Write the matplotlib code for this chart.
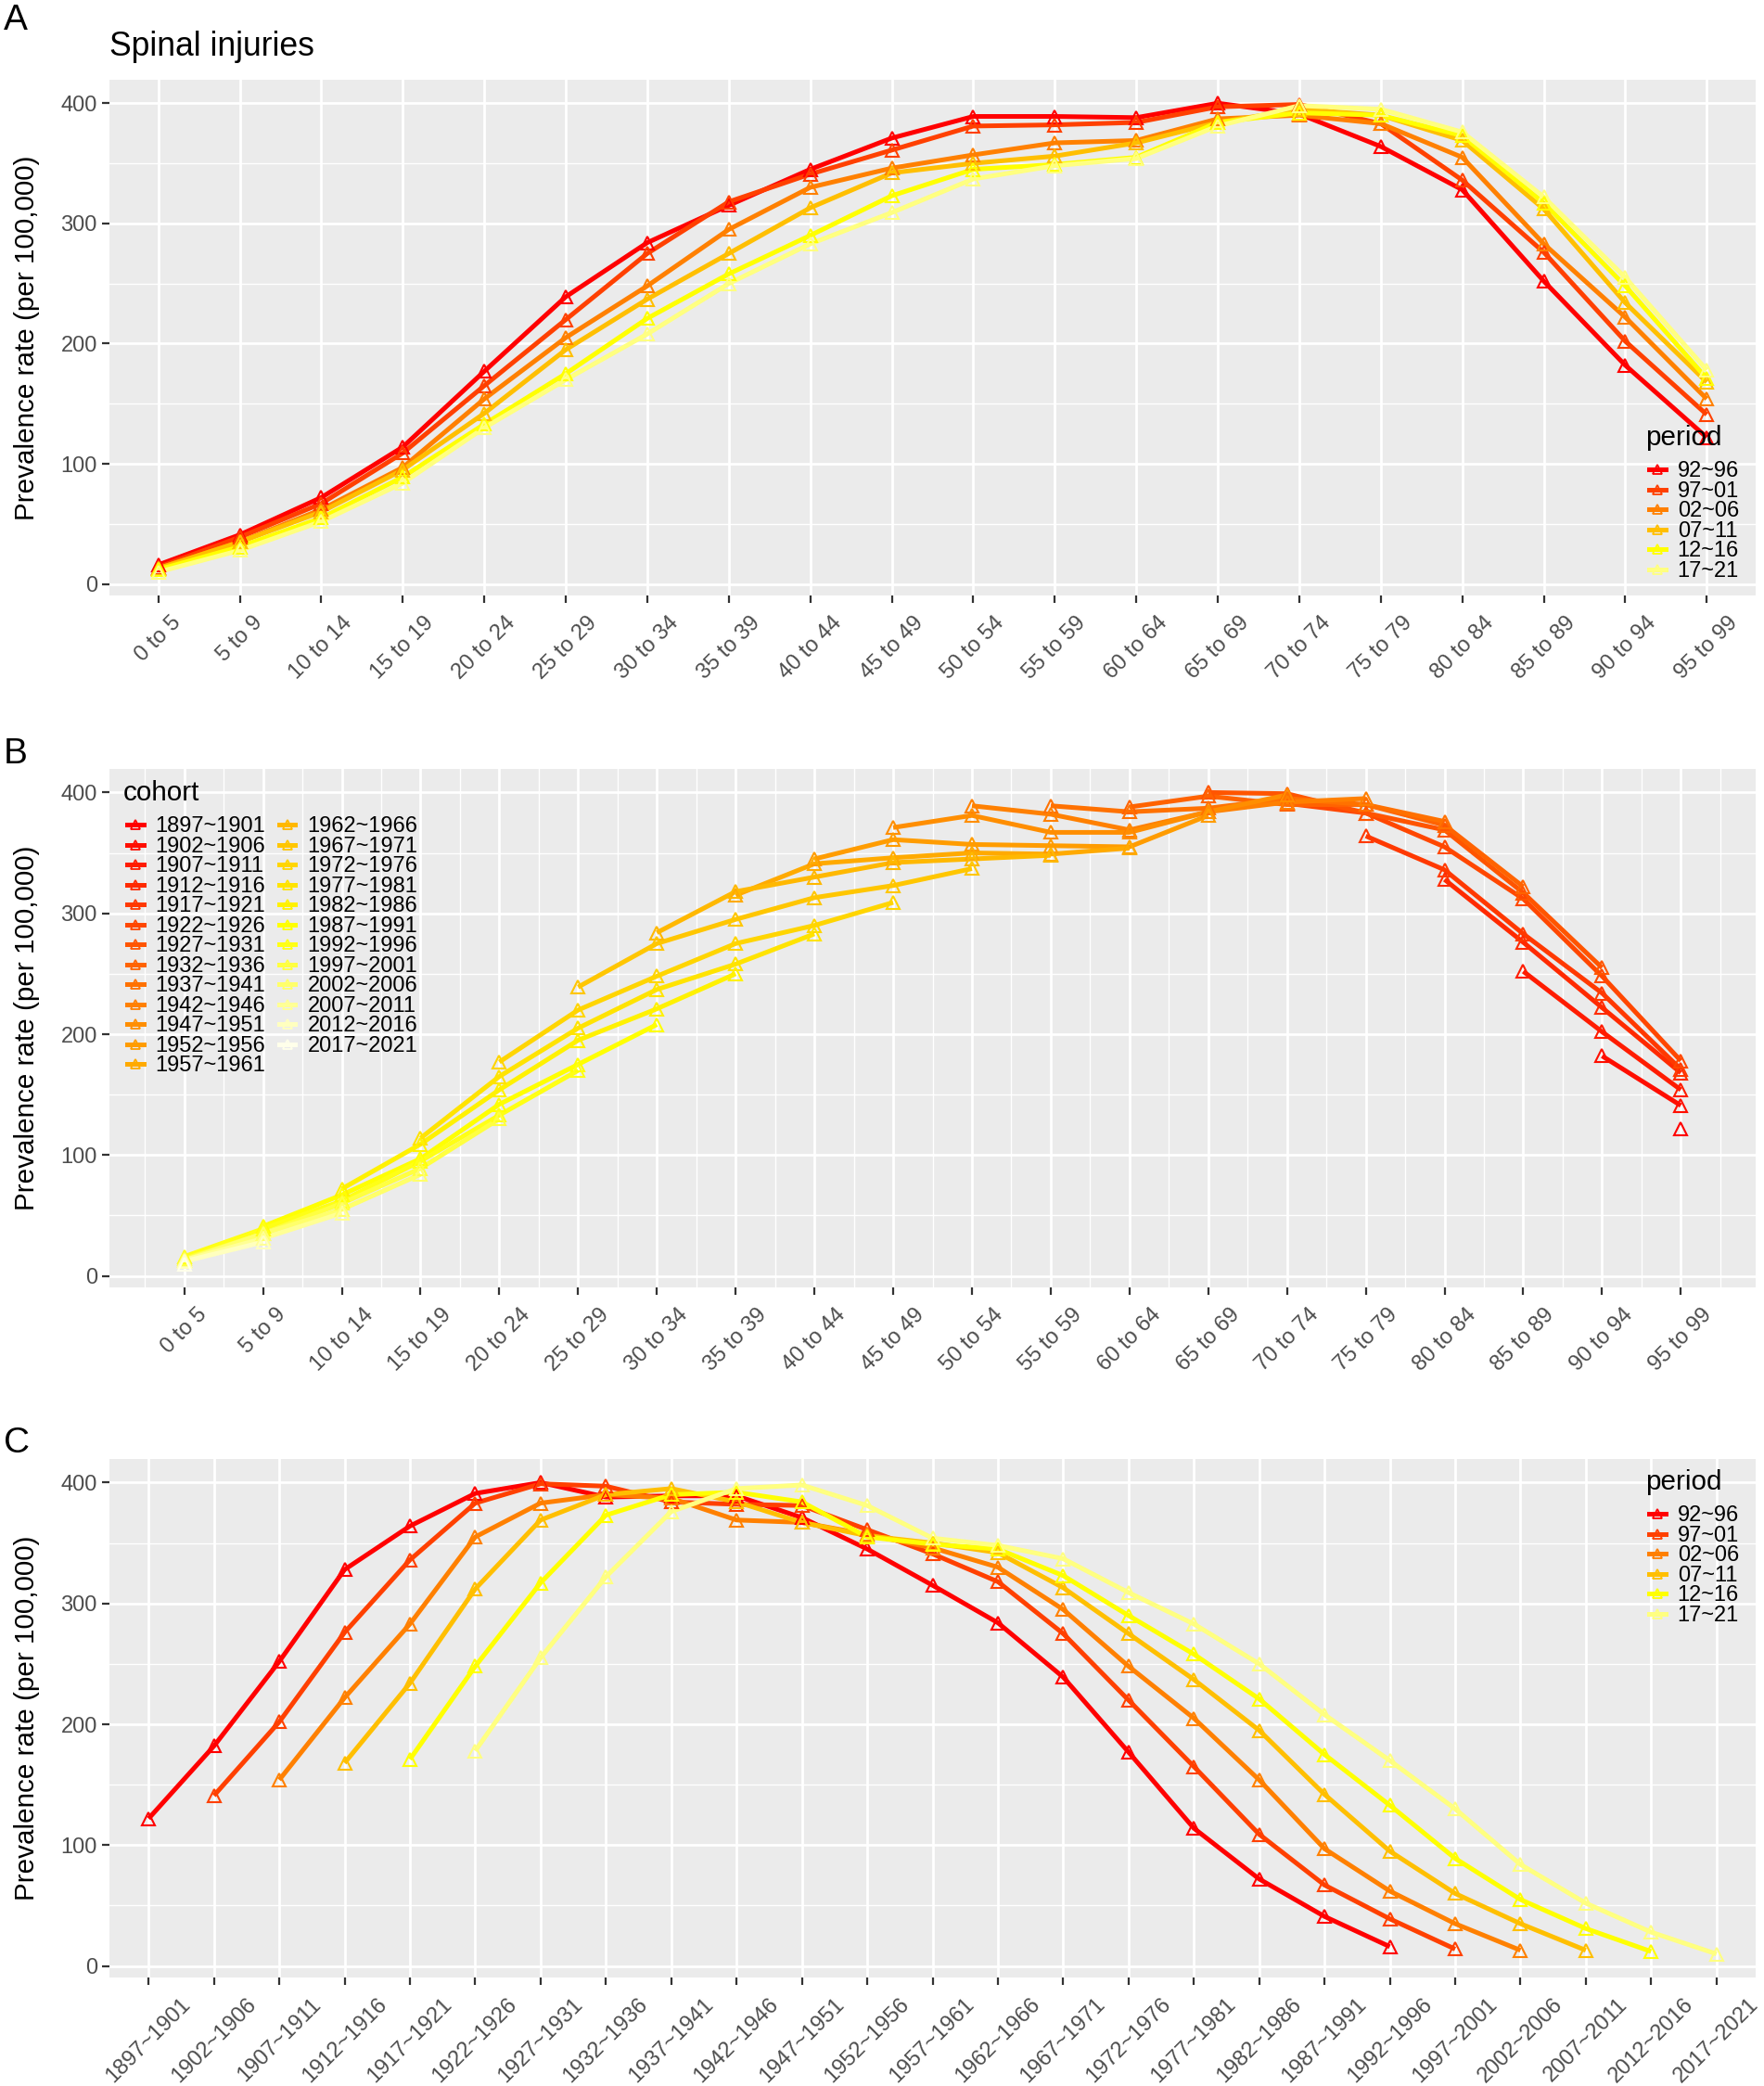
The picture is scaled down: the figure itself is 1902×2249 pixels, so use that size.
import colorsys
import numpy as np
import matplotlib
matplotlib.use("Agg")
import matplotlib.pyplot as plt
from matplotlib.lines import Line2D
from matplotlib.ticker import FixedLocator

plt.rcParams['font.family'] = ['Liberation Sans', 'DejaVu Sans']

# age groups (x axis of panels A and B)
ages = ["0 to 5", "5 to 9", "10 to 14", "15 to 19", "20 to 24", "25 to 29",
        "30 to 34", "35 to 39", "40 to 44", "45 to 49", "50 to 54", "55 to 59",
        "60 to 64", "65 to 69", "70 to 74", "75 to 79", "80 to 84", "85 to 89",
        "90 to 94", "95 to 99"]
periods = ["92~96", "97~01", "02~06", "07~11", "12~16", "17~21"]
cohorts = ["1897~1901", "1902~1906", "1907~1911", "1912~1916", "1917~1921",
           "1922~1926", "1927~1931", "1932~1936", "1937~1941", "1942~1946",
           "1947~1951", "1952~1956", "1957~1961", "1962~1966", "1967~1971",
           "1972~1976", "1977~1981", "1982~1986", "1987~1991", "1992~1996",
           "1997~2001", "2002~2006", "2007~2011", "2012~2016", "2017~2021"]

# prevalence per 100,000 by age group, one list per period
rate_92_96 = [16, 41, 72, 114, 177, 239, 284, 315, 345, 371,
              389, 389, 388, 400, 391, 364, 328, 252, 182, 122]
rate_97_01 = [14, 39, 67, 109, 165, 220, 275, 318, 341, 361,
              381, 382, 384, 397, 399, 383, 336, 276, 202, 141]
rate_02_06 = [13, 35, 62, 97, 154, 205, 248, 295, 330, 346,
              357, 367, 369, 387, 390, 383, 355, 283, 222, 154]
rate_07_11 = [13, 35, 60, 95, 142, 195, 237, 275, 313, 342,
              350, 356, 367, 384, 395, 390, 369, 312, 234, 168]
rate_12_16 = [12, 31, 55, 89, 133, 175, 221, 258, 290, 323,
              345, 349, 355, 384, 392, 390, 373, 317, 248, 171]
rate_17_21 = [10, 28, 52, 84, 130, 170, 208, 250, 283, 309,
              337, 348, 354, 381, 398, 395, 376, 322, 255, 178]

W, H = 1902, 2249
TXT = '#4D4D4D'
LW = 3.6


def heat_colors(n):
    # same ramp as R's heat.colors()
    j = n // 4
    i = n - j
    cols = []
    for k in range(i):
        h = (k / (i - 1)) / 6 if i > 1 else 0
        cols.append(colorsys.hsv_to_rgb(h, 1, 1))
    if j > 0:
        for s in np.linspace(1 - 1 / (2 * j), 1 / (2 * j), j):
            cols.append(colorsys.hsv_to_rgb(1 / 6, s, 1))
    return cols


def px_axes(fig, left, top, right, bottom):
    return fig.add_axes([left / W, 1 - bottom / H, (right - left) / W, (bottom - top) / H])


def style_axes(ax, ylim):
    ax.set_facecolor('#EBEBEB')
    for sp in ax.spines.values():
        sp.set_visible(False)
    ax.set_ylim(*ylim)
    ax.yaxis.set_major_locator(FixedLocator([0, 100, 200, 300, 400]))
    ax.yaxis.set_minor_locator(FixedLocator([50, 150, 250, 350]))
    ax.grid(True, which='major', color='white', lw=2.0, zorder=0)
    ax.grid(True, which='minor', color='white', lw=1.0, zorder=0)
    ax.set_axisbelow(True)
    ax.tick_params(which='major', length=5.5, width=1.6, color='#333333',
                   labelcolor=TXT, labelsize=17, pad=4)
    ax.tick_params(which='minor', length=0)
    ax.set_ylabel('Prevalence rate (per 100,000)', fontsize=21.3, color='black')
    ax.yaxis.set_label_coords(-0.0423, 0.5)


def set_xlabels(ax, labels):
    ax.set_xticks(range(len(labels)))
    ax.set_xticklabels(labels, rotation=45, ha='center', va='top')
    ax.tick_params(axis='x', pad=7.5)


def draw_series(ax, xs, ys, cols):
    for x, y, c in zip(xs, ys, cols):
        ax.plot(x, y, color=c, lw=LW, zorder=2, solid_capstyle='butt')
    for x, y, c in zip(xs, ys, cols):
        ax.plot(x, y, ls='none', marker='^', ms=10.5, mfc='none', mec=c,
                mew=1.5, zorder=3)


def add_legend(ax, labels, cols, title, x, y, ncol=1):
    # title drawn separately so the gap below it can follow the reference
    ax.figure.text(x / W, 1 - y / H, title, fontsize=21.3, ha='left', va='center')
    handles = [Line2D([], [], color=c, lw=LW, marker='^', ms=7.5, mfc='none',
                      mec=c, mew=1.3) for c in cols]
    leg = ax.legend(handles, labels, loc='upper left',
                    bbox_to_anchor=((x + 4) / W, 1 - (y + 25) / H),
                    bbox_transform=ax.figure.transFigure,
                    ncol=ncol, frameon=False, fontsize=17,
                    handlelength=0.75, handleheight=0.6, handletextpad=0.55,
                    labelspacing=-0.02, columnspacing=0.6, borderpad=0,
                    borderaxespad=0)
    return leg


rates = np.array([rate_92_96, rate_97_01, rate_02_06, rate_07_11, rate_12_16, rate_17_21])
lo, hi = rates.min(), rates.max()
ylim = (lo - 0.05 * (hi - lo), hi + 0.05 * (hi - lo))
pcols = heat_colors(len(periods))
ccols = heat_colors(len(cohorts))
n_age = len(ages)

fig = plt.figure(figsize=(W / 100, H / 100), dpi=100)

# ---- A: age on x, one line per period
axA = px_axes(fig, 118, 86, 1893, 642)
style_axes(axA, ylim)
draw_series(axA, [np.arange(n_age)] * len(periods), list(rates), pcols)
axA.set_xlim(-0.6, n_age - 1 + 0.6)
set_xlabels(axA, ages)
add_legend(axA, periods, pcols, 'period', 1774, 472)

# ---- B: age on x, one line per cohort
axB = px_axes(fig, 118, 829, 1893, 1388)
style_axes(axB, ylim)
bx, by = [], []
for c in range(len(cohorts)):
    xs, ys = [], []
    for p in range(len(periods)):
        a = p + n_age - 1 - c
        if 0 <= a < n_age:
            xs.append(a)
            ys.append(rates[p, a])
    order = np.argsort(xs)
    bx.append(np.array(xs)[order])
    by.append(np.array(ys)[order])
draw_series(axB, bx, by, ccols)
axB.set_xlim(-0.05 * (n_age - 1), (n_age - 1) * 1.05)
axB.xaxis.set_minor_locator(FixedLocator(np.arange(-0.5, n_age, 1.0)))
axB.grid(True, which='minor', axis='x', color='white', lw=1.0)
set_xlabels(axB, ages)
add_legend(axB, cohorts, ccols, 'cohort', 133, 855, ncol=2)

# ---- C: cohort on x, one line per period
axC = px_axes(fig, 118, 1573, 1893, 2132)
style_axes(axC, ylim)
cx, cy = [], []
for p in range(len(periods)):
    xs = np.array([p + n_age - 1 - a for a in range(n_age)])
    cx.append(xs[::-1])
    cy.append(rates[p][::-1])
draw_series(axC, cx, cy, pcols)
axC.set_xlim(-0.6, len(cohorts) - 1 + 0.6)
set_xlabels(axC, cohorts)
add_legend(axC, periods, pcols, 'period', 1774, 1598)

# panel tags and title
fig.text(4 / W, 1 - 22 / H, 'A', fontsize=28, va='center', ha='left')
fig.text(4 / W, 1 - 813 / H, 'B', fontsize=28, va='center', ha='left')
fig.text(4 / W, 1 - 1556 / H, 'C', fontsize=28, va='center', ha='left')
fig.text(118 / W, 1 - 50 / H, 'Spinal injuries', fontsize=25.6, va='center', ha='left')

fig.savefig('out.png', dpi=100, facecolor='white')
